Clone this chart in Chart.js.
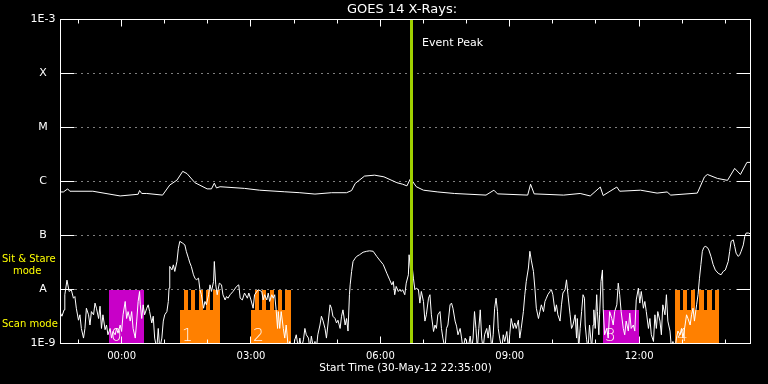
<!DOCTYPE html>
<html>
<head>
<meta charset="utf-8">
<title>GOES 14 X-Rays</title>
<script src="https://cdn.jsdelivr.net/npm/chart.js@4.4.0/dist/chart.umd.min.js"></script>
<style>
  html, body { margin: 0; padding: 0; background: #000; }
  #goes { display: block; }
</style>
</head>
<body>
<canvas id="goes" width="768" height="384"></canvas>
<script>
// time is minutes after the start time (30-May-12 22:35:00)
const titleText = 'GOES 14 X-Rays:';
const startLabel = 'Start Time (30-May-12 22:35:00)';
const spanMinutes = 960;
const labelMinutes = [85, 265, 445, 625, 805];
const timeLabels = ['00:00', '03:00', '06:00', '09:00', '12:00'];
const fluxTicks = [1e-9, 1e-8, 1e-7, 1e-6, 1e-5, 1e-4, 1e-3];
const fluxLabels = ['1E-9', 'A', 'B', 'C', 'M', 'X', '1E-3'];
const eventPeak = 487;

// 1-8 A channel
const longTime = [
  0, 4, 10, 13, 45, 83, 108, 110, 113, 120,
  142, 152, 162, 170, 176, 187, 204, 210, 214, 217,
  222, 256, 277, 312, 333, 354, 377, 398, 405, 410,
  423, 437, 450, 468, 476, 482, 487, 495, 505, 525,
  548, 592, 603, 608, 650, 654, 659, 700, 723, 737,
  751, 755, 774, 778, 807, 830, 844, 849, 886, 896,
  900, 914, 928, 938, 946, 955, 960
];
const longFlux = [
  6.4e-7, 6.4e-7, 7.3e-7, 6.6e-7, 6.6e-7, 5.4e-7, 5.8e-7, 6.8e-7, 6.0e-7, 6.0e-7,
  5.6e-7, 8.6e-7, 1.06e-6, 1.54e-6, 1.4e-6, 9.5e-7, 7.3e-7, 7.3e-7, 9.3e-7, 7.6e-7,
  8.0e-7, 7.45e-7, 6.9e-7, 6.45e-7, 6.2e-7, 5.85e-7, 6.2e-7, 6.2e-7, 6.8e-7, 9.2e-7,
  1.26e-6, 1.31e-6, 1.22e-6, 9.5e-7, 8.9e-7, 8.3e-7, 1.14e-6, 8.0e-7, 6.9e-7, 6.4e-7,
  6.0e-7, 5.6e-7, 6.9e-7, 5.9e-7, 5.6e-7, 8.9e-7, 5.9e-7, 5.6e-7, 6.0e-7, 5.4e-7,
  7.9e-7, 5.5e-7, 7.9e-7, 6.6e-7, 6.9e-7, 6.1e-7, 6.4e-7, 5.6e-7, 6.1e-7, 1.22e-6,
  1.35e-6, 1.14e-6, 1.05e-6, 1.75e-6, 1.35e-6, 2.26e-6, 2.26e-6
];

// 0.5-4 A channel
const shortTime = [
  0, 2, 5, 6, 9, 12, 15, 18, 20, 22,
  25, 27, 29, 32, 34, 36, 39, 41, 43, 46,
  48, 50, 53, 55, 57, 59, 62, 64, 66, 69,
  71, 73, 76, 78, 80, 83, 85, 87, 90, 92,
  94, 97, 99, 101, 104, 106, 108, 110, 111, 113,
  115, 117, 120, 122, 124, 127, 129, 131, 134, 136,
  138, 141, 143, 145, 148, 150, 151, 152, 155, 157,
  159, 162, 164, 166, 170, 173, 175, 178, 180, 182,
  185, 187, 189, 192, 194, 196, 199, 201, 203, 206,
  208, 210, 213, 214, 216, 218, 221, 224, 226, 229,
  231, 233,
  236, 240, 245, 248, 250, 253, 256, 260, 262, 265,
  268, 270, 275, 280, 282, 284, 287, 289, 291, 294,
  296, 298, 300, 302, 303, 305, 307, 310, 312, 314,
  317, 319, 321, 324, 326, 328, 331, 333, 335, 338,
  340, 342, 345, 347, 349, 352, 354, 356, 358, 361,
  363, 365, 368, 370, 372, 375, 377, 379, 382, 384,
  386, 389, 391, 393, 396, 398, 400, 402, 403, 405,
  407, 410, 412, 416, 421, 426, 430, 435, 440, 444,
  449, 454, 458, 461, 463, 465, 467, 470, 472, 474,
  476, 479, 481, 484, 485, 487, 489, 491, 493, 495,
  498, 500, 502, 505, 507, 509, 512, 514, 516, 519,
  521, 523, 525, 528, 530, 532, 535, 537, 539, 542,
  544, 546, 549, 551, 553, 556, 558, 560, 563, 565,
  567, 570, 572, 574, 576, 578, 580, 582, 584, 586,
  588, 590, 593, 595, 597, 600, 602, 604, 606, 608,
  609, 611, 614, 616, 618, 621, 623, 625, 627, 630,
  632, 634, 637, 639, 641, 644, 646, 648, 651, 653,
  655, 658, 660, 662, 665, 667, 669, 672, 674, 676,
  678, 681, 683, 685, 688, 690, 692, 695, 697, 699,
  702, 704, 706, 709, 711, 713,
  716, 718, 719, 721, 723, 725, 727, 729, 730, 732,
  734, 736, 739, 741, 742, 744, 746, 747, 749, 750,
  752, 754, 755, 757, 760, 762, 764, 767, 769, 771,
  774, 776, 778, 780, 783, 785, 787, 790, 792, 794,
  797, 799, 801, 804, 806, 808, 811, 813, 815, 818,
  820, 822, 825, 827, 829, 831, 834, 836, 838, 841,
  843, 845, 848, 850, 852, 855, 857, 859, 862, 864,
  866, 869, 871, 873, 876, 878, 880, 882, 885, 887,
  889, 891, 893, 895, 897, 900, 902, 905, 908, 911,
  915, 919, 922, 925, 929, 931, 933, 936, 938, 940,
  943, 945, 947, 950, 952, 954, 957, 960
];
const shortFlux = [
  3.65e-9, 3.2e-9, 4.2e-9, 8.0e-9, 1.49e-8, 9.2e-9, 9.9e-9, 6.9e-9, 7.4e-9, 4.5e-9,
  2.7e-9, 3.4e-9, 1.9e-9, 1.26e-9, 1.9e-9, 4.5e-9, 3.4e-9, 2.2e-9, 3.9e-9, 3.4e-9,
  5.6e-9, 4.5e-9, 2.9e-9, 4.9e-9, 1.9e-9, 3.4e-9, 1.8e-9, 2.2e-9, 1.45e-9, 1.9e-9,
  1.26e-9, 1.67e-9, 1.45e-9, 1.9e-9, 1.55e-9, 2.2e-9, 1.67e-9, 3.4e-9, 6.0e-9, 2.9e-9,
  3.9e-9, 2.6e-9, 3.9e-9, 1.9e-9, 1.26e-9, 2.6e-9, 6.0e-9, 9.2e-9, 5.2e-9, 2.9e-9,
  5.2e-9, 3.4e-9, 4.5e-9, 5.2e-9, 3.9e-9, 2.4e-9, 3.2e-9, 1.26e-9, 8e-10, 1.9e-9,
  8e-10, 1.26e-9, 2.6e-9, 3.4e-9, 3.9e-9, 6.0e-9, 1.06e-8, 2.67e-8, 2.31e-8, 2.86e-8,
  2.16e-8, 3.3e-8, 5.8e-8, 7.8e-8, 7.2e-8, 6.7e-8, 5.1e-8, 3.8e-8, 3.1e-8, 2.67e-8,
  1.87e-8, 1.62e-8, 1.51e-8, 1.62e-8, 9.9e-9, 8.0e-9, 4.5e-9, 6.0e-9, 5.2e-9, 8.0e-9,
  1.22e-8, 9.2e-9, 1.41e-8, 3.3e-8, 1.22e-8, 8.0e-9, 1.31e-8, 1.22e-8, 8.0e-9, 6.4e-9,
  7.4e-9, 6.9e-9,
  8.0e-9, 9.2e-9, 1.14e-8, 1.22e-8, 6.9e-9, 6.4e-9, 8.6e-9, 6.9e-9, 8.6e-9, 6.4e-9,
  4.5e-9, 8.0e-9, 9.9e-9, 9.2e-9, 6.4e-9, 8.0e-9, 6.4e-9, 8.6e-9, 6.0e-9, 8.0e-9,
  6.9e-9, 8.0e-9, 4.2e-9, 1.9e-9, 3.9e-9, 1.9e-9, 3.9e-9, 1.9e-9, 1.26e-9, 2.2e-9,
  8e-10, 1.09e-9, 8e-10, 8e-10, 1.17e-9, 1.45e-9, 8e-10, 1.26e-9, 8e-10, 1.17e-9,
  1.9e-9, 1.45e-9, 1.26e-9, 8e-10, 1.37e-9, 8e-10, 1.09e-9, 8e-10, 1.45e-9, 2.2e-9,
  3.2e-9, 2.7e-9, 1.9e-9, 1.26e-9, 2.2e-9, 5.2e-9, 4.5e-9, 3.2e-9, 2.9e-9, 2.4e-9,
  2.7e-9, 1.9e-9, 3.2e-9, 4.2e-9, 2.2e-9, 2.9e-9, 1.7e-9, 8.0e-9, 1.22e-8, 2.16e-8,
  3.3e-8, 3.8e-8, 4.1e-8, 4.4e-8, 4.9e-8, 5.1e-8, 5.2e-8, 5.1e-8, 4.1e-8, 3.5e-8,
  2.9e-8, 2.0e-8, 1.51e-8, 1.22e-8, 1.41e-8, 8.0e-9, 1.14e-8, 9.2e-9, 9.9e-9, 9.2e-9,
  9.9e-9, 8.0e-9, 1.31e-8, 1.87e-8, 4.4e-8, 2.31e-8, 2.86e-8, 1.62e-8, 9.9e-9, 1.06e-8,
  9.9e-9, 5.6e-9, 9.2e-9, 6.0e-9, 2.6e-9, 3.4e-9, 6.9e-9, 8.0e-9, 3.4e-9, 1.67e-9,
  2.2e-9, 1.9e-9, 3.4e-9, 3.9e-9, 1.9e-9, 1.26e-9, 8e-10, 1.9e-9, 2.2e-9, 5.2e-9,
  5.6e-9, 4.5e-9, 2.6e-9, 2.1e-9, 1.45e-9, 1.9e-9, 1.26e-9, 8e-10, 1.26e-9, 1.09e-9,
  8e-10, 1.37e-9, 8e-10, 1.26e-9, 3.9e-9, 1.9e-9, 8e-10, 1.9e-9, 4.2e-9, 1.26e-9,
  8e-10, 1.45e-9, 1.9e-9, 1.26e-9, 2.2e-9, 8e-10, 1.45e-9, 4.5e-9, 6.9e-9, 3.9e-9,
  1.9e-9, 1.26e-9, 8e-10, 1.45e-9, 1.09e-9, 1.67e-9, 8e-10, 1.45e-9, 2.9e-9, 1.9e-9,
  2.4e-9, 1.9e-9, 2.7e-9, 1.26e-9, 1.9e-9, 3.9e-9, 8.0e-9, 1.41e-8, 2.5e-8, 5.1e-8,
  3.5e-8, 2.16e-8, 1.06e-8, 4.5e-9, 2.9e-9, 3.9e-9, 5.2e-9, 3.9e-9, 6.0e-9, 6.9e-9,
  8.0e-9, 9.2e-9, 9.9e-9, 8.0e-9, 3.9e-9, 5.2e-9, 3.4e-9, 2.6e-9, 5.2e-9, 8.6e-9,
  9.9e-9, 1.51e-8, 8.0e-9, 3.4e-9, 1.9e-9, 2.2e-9,
  3.4e-9, 1.26e-9, 2.9e-9, 8e-10, 1.9e-9, 3.9e-9, 8.0e-9, 6.9e-9, 2.2e-9, 1.17e-9,
  8e-10, 2.2e-9, 8e-10, 2.2e-9, 4.2e-9, 1.9e-9, 8.0e-9, 3.9e-9, 1.45e-9, 3.4e-9,
  1.41e-8, 2.3e-8, 4.5e-9, 1.45e-9, 1.9e-9, 1.26e-9, 3.9e-9, 2.9e-9, 2.2e-9, 3.9e-9,
  5.2e-9, 1.31e-8, 8.0e-9, 3.9e-9, 1.9e-9, 1.45e-9, 2.6e-9, 1.7e-9, 3.65e-9, 1.9e-9,
  2.2e-9, 1.7e-9, 6.4e-9, 1.06e-8, 5.6e-9, 9.2e-9, 4.5e-9, 6.0e-9, 3.9e-9, 1.9e-9,
  2.9e-9, 1.45e-9, 1.09e-9, 3.4e-9, 1.9e-9, 3.9e-9, 2.6e-9, 1.45e-9, 5.2e-9, 3.4e-9,
  8.0e-9, 2.6e-9, 1.7e-9, 8e-10, 1.09e-9, 8e-10, 1.26e-9, 1.7e-9, 1.45e-9, 1.9e-9,
  1.26e-9, 2.2e-9, 3.4e-9, 2.9e-9, 2.2e-9, 3.4e-9, 4.5e-9, 2.6e-9, 5.2e-9, 8.0e-9,
  1.62e-8, 2.9e-8, 5.1e-8, 6.0e-8, 6.3e-8, 6.0e-8, 5.4e-8, 4.1e-8, 2.9e-8, 2.3e-8,
  2.0e-8, 1.87e-8, 2.16e-8, 2.3e-8, 3.3e-8, 5.1e-8, 7.8e-8, 8.3e-8, 6.3e-8, 4.7e-8,
  4.1e-8, 4.4e-8, 5.1e-8, 6.7e-8, 9.6e-8, 1.11e-7, 1.11e-7, 1.07e-7
];

// observing blocks along the bottom (group 0 / group 1)
const blockLabels = ['0', '1', '2', '3', '4'];
const blockGroup = [0, 1, 1, 0, 1];
const blockStart = [67, 166, 265, 755, 855];
const blockEnd = [116, 222, 321, 805, 916];
const blockTop = [1e-8, 4.2e-9, 4.2e-9, 4.2e-9, 4.2e-9];
const blockTeeth = [
  [],
  [[172, 177], [181, 187], [192, 198], [203, 208], [212, 222]],
  [[270, 276], [281, 286], [291, 297], [302, 308], [313, 321]],
  [],
  [[855, 862], [866, 872], [877, 883], [888, 895], [899, 906], [910, 916]]
];
const teethTop = 1e-8;

const groupColors = ['#c800c8', '#ff8000'];

Chart.defaults.font.family = '"DejaVu Sans", sans-serif';
Chart.defaults.font.size = 10;
Chart.defaults.color = '#ffffff';

const goesOverlay = {
  id: 'goesOverlay',
  beforeDatasetsDraw(chart) {
    const { ctx, chartArea: a, scales: { x, y } } = chart;
    ctx.save();
    ctx.beginPath();
    ctx.rect(a.left, a.top, a.right - a.left, a.bottom - a.top);
    ctx.clip();

    // dotted class levels
    ctx.strokeStyle = '#ffffff';
    ctx.lineWidth = 1;
    ctx.setLineDash([1, 5]);
    fluxTicks.slice(1, -1).forEach(function (v) {
      const py = Math.floor(y.getPixelForValue(v)) + 0.5;
      ctx.beginPath();
      ctx.moveTo(a.left + 15, py);
      ctx.lineTo(a.right - 15, py);
      ctx.stroke();
    });
    ctx.setLineDash([]);

    // blocks
    const yA = Math.round(y.getPixelForValue(teethTop));
    for (let i = 0; i < blockStart.length; i++) {
      const x0 = Math.round(x.getPixelForValue(blockStart[i]));
      const x1 = Math.round(x.getPixelForValue(blockEnd[i]));
      const yt = Math.round(y.getPixelForValue(blockTop[i]));
      ctx.fillStyle = groupColors[blockGroup[i]];
      ctx.fillRect(x0, yt, x1 - x0, a.bottom - yt);
      blockTeeth[i].forEach(function (t) {
        const t0 = Math.round(x.getPixelForValue(t[0]));
        const t1 = Math.round(x.getPixelForValue(t[1]));
        ctx.fillRect(t0, yA, t1 - t0, yt - yA);
      });
      ctx.fillStyle = '#fff4ec';
      ctx.font = '200 17px "DejaVu Sans"';
      ctx.textAlign = 'left';
      ctx.textBaseline = 'alphabetic';
      ctx.fillText(blockLabels[i], x0 + 2, a.bottom - 3);
    }
    ctx.restore();
  },
  afterDatasetsDraw(chart) {
    const { ctx, chartArea: a, scales: { x, y } } = chart;
    ctx.save();

    // event peak marker
    const px = Math.round(x.getPixelForValue(eventPeak));
    ctx.fillStyle = '#a0d000';
    ctx.fillRect(px - 1, a.top, 3, a.bottom - a.top);
    ctx.fillStyle = '#ffffff';
    ctx.font = '11px "DejaVu Sans"';
    ctx.textAlign = 'left';
    ctx.textBaseline = 'middle';
    ctx.fillText('Event Peak', px + 11, a.top + 23.5);

    // frame
    ctx.strokeStyle = '#ffffff';
    ctx.lineWidth = 1;
    ctx.strokeRect(a.left, a.top, a.right - a.left, a.bottom - a.top);

    // class ticks, both sides
    fluxTicks.slice(1, -1).forEach(function (v) {
      const py = Math.floor(y.getPixelForValue(v)) + 0.5;
      ctx.beginPath();
      ctx.moveTo(a.left, py);
      ctx.lineTo(a.left + 14, py);
      ctx.moveTo(a.right - 14, py);
      ctx.lineTo(a.right, py);
      ctx.stroke();
    });

    // hourly ticks, long every 3 h
    for (let m = 25; m < spanMinutes; m += 60) {
      const tx = Math.floor(x.getPixelForValue(m)) + 0.5;
      const len = labelMinutes.includes(m) ? 7 : 4;
      ctx.beginPath();
      ctx.moveTo(tx, a.top);
      ctx.lineTo(tx, a.top + len);
      ctx.moveTo(tx, a.bottom);
      ctx.lineTo(tx, a.bottom - len);
      ctx.stroke();
    }

    // titles
    ctx.fillStyle = '#ffffff';
    ctx.textAlign = 'center';
    ctx.textBaseline = 'middle';
    ctx.font = '13px "DejaVu Sans"';
    ctx.fillText(titleText, 402, 9.5);
    ctx.font = '10.5px "DejaVu Sans"';
    ctx.fillText(startLabel, (a.left + a.right) / 2, 368.5);

    // mode labels
    ctx.font = '10px "DejaVu Sans"';
    ctx.fillStyle = '#ffff00';
    ctx.textAlign = 'left';
    ctx.fillText('Sit & Stare', 2, 259);
    ctx.fillText('mode', 13, 271);
    ctx.fillText('Scan mode', 2, 324);
    ctx.restore();
  }
};

const chart = new Chart(document.getElementById('goes'), {
  type: 'line',
  data: {
    datasets: [
      {
        label: '1-8 A',
        data: longTime.map((t, i) => ({ x: t, y: longFlux[i] })),
        borderColor: '#ffffff',
        borderWidth: 1,
        pointRadius: 0,
        tension: 0
      },
      {
        label: '0.5-4 A',
        data: shortTime.map((t, i) => ({ x: t, y: shortFlux[i] })),
        borderColor: '#ffffff',
        borderWidth: 1,
        pointRadius: 0,
        tension: 0
      }
    ]
  },
  options: {
    responsive: false,
    animation: false,
    devicePixelRatio: 1,
    layout: { padding: { top: 19.5, right: 17.5, bottom: 0, left: 0 } },
    plugins: {
      legend: { display: false },
      tooltip: { enabled: false }
    },
    scales: {
      x: {
        type: 'linear',
        min: 0,
        max: spanMinutes,
        grid: { display: false, drawTicks: false },
        border: { display: false },
        afterBuildTicks: function (scale) {
          scale.ticks = labelMinutes.map(v => ({ value: v }));
        },
        afterFit: function (scale) {
          scale.height = 40.5;
        },
        ticks: {
          autoSkip: false,
          maxRotation: 0,
          padding: 7,
          color: '#ffffff',
          callback: function (value, index) {
            return timeLabels[index];
          }
        }
      },
      y: {
        type: 'logarithmic',
        min: 1e-9,
        max: 1e-3,
        grid: { display: false, drawTicks: false },
        border: { display: false },
        afterBuildTicks: function (scale) {
          scale.ticks = fluxTicks.map(v => ({ value: v }));
        },
        afterFit: function (scale) {
          scale.width = 60.5;
        },
        ticks: {
          crossAlign: 'center',
          padding: 5,
          font: { size: 11 },
          color: '#ffffff',
          callback: function (value, index) {
            return fluxLabels[index];
          }
        }
      }
    }
  },
  plugins: [goesOverlay]
});
</script>
</body>
</html>
